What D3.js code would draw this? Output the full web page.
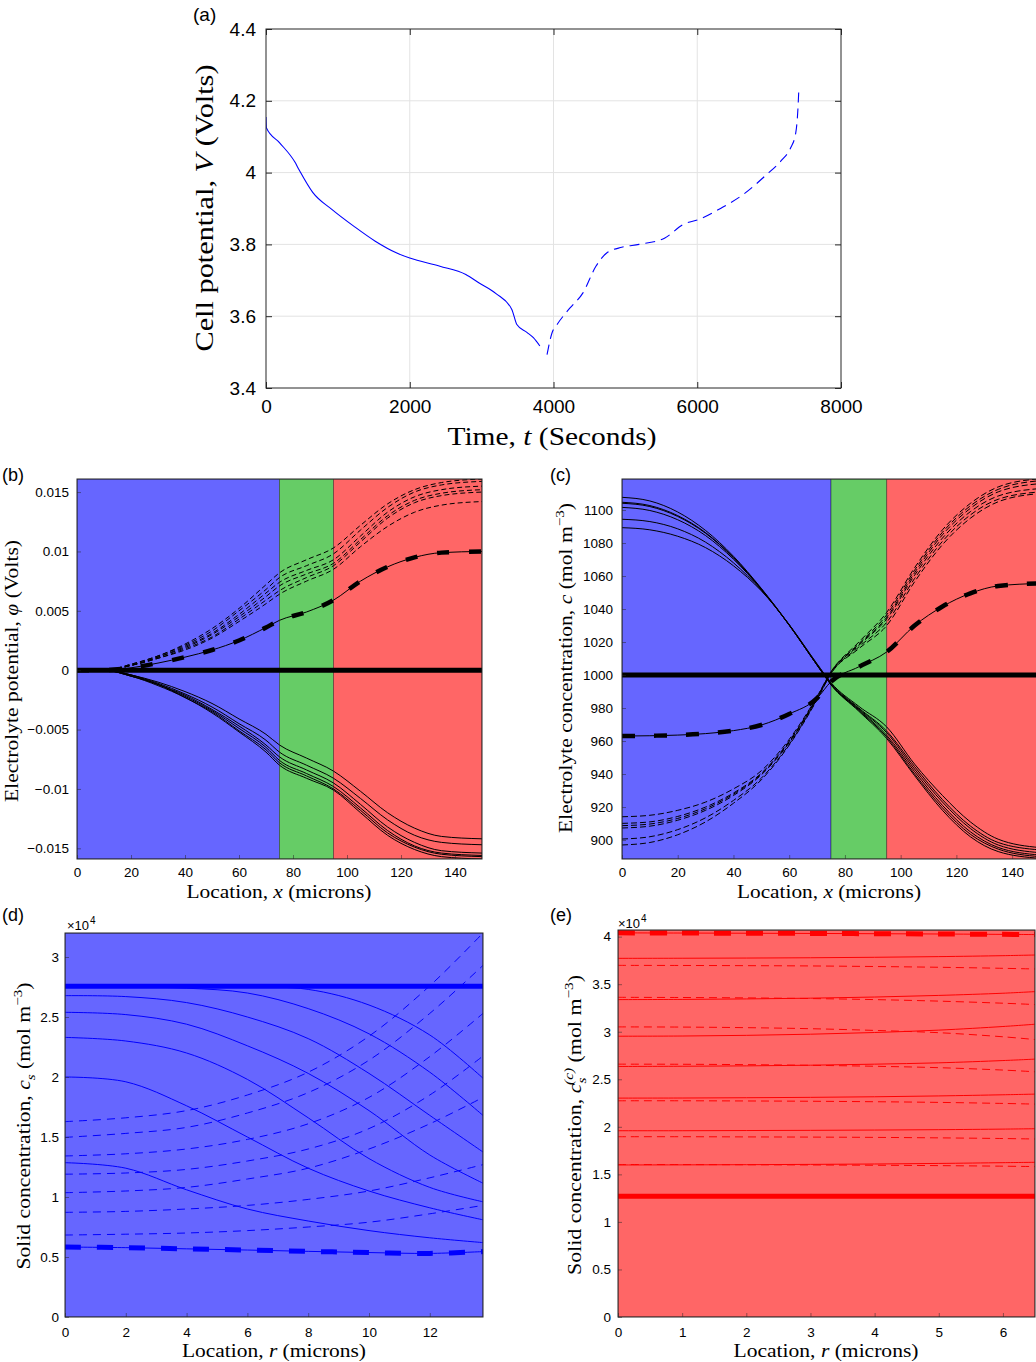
<!DOCTYPE html>
<html>
<head>
<meta charset="utf-8">
<script src="https://cdn.jsdelivr.net/npm/d3@7"></script>
<style>
  body { margin: 0; background: #fff; }
</style>
</head>
<body>
<svg id="figure" width="1036" height="1362"></svg>
<script>
// ---------- (a) cell potential vs time ----------
const dischargeTime = [0, 5, 190, 400, 460, 650, 920, 1220, 1520, 1820, 2000, 2420, 2780, 2960, 3200, 3420, 3490, 3630, 3720, 3810];
const dischargeVolt = [4.155, 4.125, 4.083, 4.030, 4.008, 3.945, 3.897, 3.851, 3.809, 3.776, 3.762, 3.739, 3.716, 3.693, 3.663, 3.619, 3.577, 3.555, 3.540, 3.517];
const chargeTime = [3910, 3980, 4050, 4230, 4410, 4590, 4740, 4950, 5190, 5550, 5800, 6040, 6340, 6640, 6940, 7180, 7300, 7370, 7400, 7412];
const chargeVolt = [3.493, 3.554, 3.577, 3.623, 3.665, 3.739, 3.776, 3.792, 3.800, 3.818, 3.855, 3.871, 3.902, 3.939, 3.990, 4.036, 4.069, 4.110, 4.175, 4.226];
const timeTicks = [0, 2000, 4000, 6000, 8000];
const voltTicks = [3.4, 3.6, 3.8, 4, 4.2, 4.4];

// ---------- cell regions (microns): anode, separator, cathode ----------
const electrodeEdges = [0, 75, 95, 150];
const locationTicks = [0, 20, 40, 60, 80, 100, 120, 140];
const xGrid = [0, 10, 20, 30, 40, 50, 60, 70, 75, 85, 95, 105, 115, 125, 135, 150];

// ---------- (b) electrolyte potential (V) ----------
const phiRest = [0, 0];
const phiDischarge = [
  [0, 0, -0.0004, -0.0010, -0.0018, -0.0028, -0.0041, -0.0054, -0.0063, -0.0074, -0.0085, -0.0102, -0.0120, -0.0133, -0.0140, -0.0142],
  [0, 0, -0.0004, -0.0011, -0.0020, -0.0031, -0.0045, -0.0059, -0.0069, -0.0080, -0.0091, -0.0108, -0.0126, -0.0139, -0.0145, -0.0147],
  [0, 0, -0.0004, -0.0012, -0.0021, -0.0033, -0.0047, -0.0063, -0.0073, -0.0084, -0.0095, -0.0113, -0.0132, -0.0145, -0.0152, -0.0154],
  [0, 0, -0.0005, -0.0012, -0.0022, -0.0034, -0.0049, -0.0065, -0.0076, -0.0087, -0.0098, -0.0116, -0.0135, -0.0148, -0.0154, -0.0156],
  [0, 0, -0.0005, -0.0012, -0.0023, -0.0035, -0.0051, -0.0067, -0.0078, -0.0089, -0.0100, -0.0118, -0.0137, -0.0149, -0.0155, -0.0157],
  [0, 0, -0.0005, -0.0013, -0.0023, -0.0036, -0.0052, -0.0069, -0.0080, -0.0091, -0.0101, -0.0120, -0.0139, -0.0151, -0.0157, -0.0159]
];
const phiCharge = [
  [0, 0, 0.0005, 0.0012, 0.0022, 0.0035, 0.0052, 0.0072, 0.0082, 0.0093, 0.0103, 0.0122, 0.0140, 0.0152, 0.0158, 0.0161],
  [0, 0, 0.0005, 0.0012, 0.0021, 0.0033, 0.0050, 0.0068, 0.0078, 0.0088, 0.0098, 0.0118, 0.0137, 0.0150, 0.0156, 0.0159],
  [0, 0, 0.0004, 0.0011, 0.0020, 0.0031, 0.0047, 0.0065, 0.0074, 0.0084, 0.0093, 0.0113, 0.0133, 0.0146, 0.0152, 0.0155],
  [0, 0, 0.0004, 0.0011, 0.0019, 0.0030, 0.0045, 0.0062, 0.0071, 0.0081, 0.0090, 0.0110, 0.0130, 0.0143, 0.0149, 0.0152],
  [0, 0, 0.0004, 0.0010, 0.0018, 0.0028, 0.0043, 0.0059, 0.0067, 0.0078, 0.0088, 0.0108, 0.0128, 0.0141, 0.0147, 0.0150],
  [0, 0, 0.0004, 0.0010, 0.0017, 0.0027, 0.0041, 0.0056, 0.0064, 0.0075, 0.0085, 0.0104, 0.0121, 0.0133, 0.0139, 0.0142]
];
const phiChargeStart = [0, 0, 0.0002, 0.0006, 0.0011, 0.0017, 0.0025, 0.0036, 0.0042, 0.0049, 0.0059, 0.0075, 0.0087, 0.0095, 0.0099, 0.0100];
const phiTicks = [-0.015, -0.01, -0.005, 0, 0.005, 0.01, 0.015];

// ---------- (c) electrolyte concentration (mol m^-3) ----------
const concRest = [1000, 1000];
const concDischarge = [
  [1107.7, 1105.5, 1098.8, 1087.6, 1072.0, 1052.5, 1030.5, 1006.0, 994.0, 978.0, 961.5, 939.0, 918.0, 902.0, 893.0, 888.9],
  [1104.7, 1102.7, 1096.6, 1086.3, 1071.2, 1052.2, 1030.3, 1006.0, 994.2, 978.5, 962.5, 940.0, 919.5, 903.5, 894.5, 889.9],
  [1104.1, 1102.1, 1096.1, 1085.9, 1071.0, 1052.1, 1030.2, 1006.0, 994.3, 979.0, 963.5, 941.5, 921.0, 905.0, 895.5, 890.9],
  [1101.6, 1099.7, 1094.1, 1084.5, 1070.2, 1051.9, 1030.2, 1006.2, 994.5, 979.5, 965.0, 943.0, 923.0, 907.0, 897.0, 892.3],
  [1094.4, 1093.0, 1088.6, 1080.5, 1068.0, 1051.4, 1030.4, 1006.5, 995.0, 980.0, 966.0, 944.5, 924.5, 908.5, 898.5, 894.0],
  [1089.3, 1088.0, 1084.1, 1077.2, 1066.2, 1051.0, 1030.6, 1006.8, 995.4, 981.0, 968.5, 946.0, 927.0, 911.0, 900.5, 895.4]
];
const concCharge = [
  [914.1, 915.0, 918.0, 923.0, 931.0, 942.0, 961.0, 987.0, 1002.0, 1020.0, 1038.0, 1065.0, 1088.0, 1104.0, 1114.0, 1119.0],
  [910.1, 911.0, 914.3, 920.0, 928.5, 940.5, 960.0, 986.5, 1001.8, 1019.0, 1036.5, 1063.5, 1086.5, 1102.5, 1112.5, 1117.8],
  [908.7, 909.7, 913.1, 919.0, 927.8, 940.0, 959.5, 986.3, 1001.6, 1018.5, 1035.0, 1062.0, 1085.0, 1101.0, 1111.0, 1116.0],
  [907.3, 908.4, 912.0, 918.0, 927.0, 939.5, 959.0, 986.0, 1001.4, 1018.0, 1034.0, 1060.5, 1083.0, 1099.0, 1108.5, 1113.0],
  [900.6, 902.0, 906.3, 913.5, 924.0, 937.5, 958.0, 985.5, 1001.0, 1017.0, 1032.0, 1058.5, 1081.0, 1097.0, 1106.5, 1111.0],
  [897.0, 898.5, 903.2, 911.0, 922.3, 936.5, 957.5, 985.0, 1000.8, 1016.0, 1030.0, 1056.5, 1079.0, 1095.0, 1105.0, 1110.0]
];
const concChargeStart = [963.0, 963.2, 963.6, 964.5, 966.3, 969.7, 976.4, 986.0, 996.0, 1005.0, 1014.0, 1030.0, 1041.5, 1049.5, 1054.0, 1055.5];
const concTicks = [900, 920, 940, 960, 980, 1000, 1020, 1040, 1060, 1080, 1100];

// ---------- (d) anode particle solid concentration (x 10^4 mol m^-3) ----------
const anodeRadius = [0, 2, 4, 6, 8, 10, 12, 13.75];
const anodeRest = [2.756, 2.756];
const anodeDischarge = [
  [2.750, 2.750, 2.750, 2.750, 2.730, 2.600, 2.350, 1.990],
  [2.750, 2.750, 2.740, 2.700, 2.570, 2.360, 2.040, 1.680],
  [2.678, 2.670, 2.620, 2.500, 2.320, 2.030, 1.680, 1.375],
  [2.539, 2.520, 2.440, 2.260, 2.030, 1.720, 1.350, 1.115],
  [2.330, 2.300, 2.200, 1.980, 1.660, 1.320, 1.080, 0.960],
  [2.000, 1.960, 1.760, 1.500, 1.240, 1.050, 0.910, 0.810],
  [1.286, 1.240, 1.060, 0.900, 0.800, 0.720, 0.660, 0.620]
];
const anodeCharge = [
  [1.628, 1.660, 1.720, 1.850, 2.040, 2.340, 2.760, 3.200],
  [1.497, 1.530, 1.580, 1.700, 1.870, 2.140, 2.530, 2.930],
  [1.342, 1.360, 1.400, 1.480, 1.610, 1.830, 2.170, 2.530],
  [1.190, 1.200, 1.230, 1.300, 1.400, 1.570, 1.850, 2.175],
  [1.036, 1.050, 1.080, 1.150, 1.240, 1.400, 1.610, 1.830],
  [0.872, 0.880, 0.900, 0.930, 0.980, 1.050, 1.160, 1.270],
  [0.683, 0.690, 0.700, 0.720, 0.750, 0.790, 0.860, 0.930]
];
const anodeChargeStart = [0.583, 0.578, 0.568, 0.558, 0.547, 0.537, 0.530, 0.545];
const anodeRTicks = [0, 2, 4, 6, 8, 10, 12];
const anodeCTicks = [0, 0.5, 1, 1.5, 2, 2.5, 3];

// ---------- (e) cathode particle solid concentration (x 10^4 mol m^-3) ----------
const cathodeRadius = [0, 1, 2, 3, 4, 5, 6, 6.5];
const cathodeRest = [1.27, 1.27];
const cathodeDischarge = [
  [3.772, 3.773, 3.775, 3.778, 3.783, 3.790, 3.800, 3.807],
  [3.338, 3.340, 3.345, 3.353, 3.365, 3.382, 3.405, 3.422],
  [2.953, 2.955, 2.962, 2.974, 2.992, 3.017, 3.055, 3.079],
  [2.635, 2.637, 2.641, 2.648, 2.659, 2.673, 2.697, 2.712],
  [2.302, 2.303, 2.306, 2.310, 2.316, 2.325, 2.337, 2.344],
  [1.959, 1.959, 1.961, 1.963, 1.966, 1.970, 1.976, 1.980],
  [1.599, 1.600, 1.602, 1.605, 1.609, 1.615, 1.623, 1.627]
];
const cathodeCharge = [
  [3.698, 3.697, 3.695, 3.692, 3.686, 3.678, 3.667, 3.660],
  [3.362, 3.360, 3.356, 3.349, 3.338, 3.322, 3.300, 3.286],
  [3.051, 3.049, 3.043, 3.032, 3.014, 2.990, 2.947, 2.918],
  [2.659, 2.658, 2.654, 2.647, 2.637, 2.622, 2.597, 2.579],
  [2.274, 2.274, 2.272, 2.269, 2.264, 2.257, 2.246, 2.239],
  [1.896, 1.896, 1.894, 1.892, 1.889, 1.884, 1.877, 1.872],
  [1.603, 1.603, 1.601, 1.599, 1.596, 1.592, 1.586, 1.582]
];
const cathodeChargeStart = [4.040, 4.038, 4.036, 4.034, 4.031, 4.028, 4.024, 4.022];
const cathodeRTicks = [0, 1, 2, 3, 4, 5, 6];
const cathodeCTicks = [0, 0.5, 1, 1.5, 2, 2.5, 3, 3.5, 4];

// ---------- styles ----------
const sans = "'Liberation Sans', Arial, Helvetica, sans-serif";
const serif = "'Liberation Serif', 'Times New Roman', serif";
const regionColors = ["#6666ff", "#66cc66", "#ff6666"];
const axisColor = "#262626";

const svg = d3.select("#figure");

// number format with a real minus sign
const fmt = d => d < 0 ? "\u2212" + String(-d) : String(d);

function makePanel(id, box, xDomain, yDomain) {
  const x = d3.scaleLinear().domain(xDomain).range([box.left, box.right]);
  const y = d3.scaleLinear().domain(yDomain).range([box.bottom, box.top]);
  svg.append("clipPath").attr("id", "clip-" + id)
    .append("rect")
      .attr("x", box.left).attr("y", box.top)
      .attr("width", box.right - box.left).attr("height", box.bottom - box.top);
  const g = svg.append("g").attr("class", "panel-" + id);
  const plot = g.append("g").attr("clip-path", `url(#clip-${id})`);
  return { g, plot, x, y, box };
}

// draw a family of profiles that share one x grid
function drawProfiles(p, xs, rows, stroke, width, dash, curve) {
  const line = d3.line()
    .x((d, i) => p.x(xs[i]))
    .y(d => p.y(d))
    .curve(curve || d3.curveMonotoneX);
  p.plot.append("g").selectAll("path")
    .data(rows)
    .join("path")
      .attr("fill", "none")
      .attr("stroke", stroke)
      .attr("stroke-width", width)
      .attr("stroke-dasharray", dash || null)
      .attr("d", line);
}

function drawAxes(p, xTicks, yTicks, o) {
  const b = p.box;
  p.g.append("g")
    .attr("transform", `translate(0,${b.bottom})`)
    .call(d3.axisBottom(p.x).tickValues(xTicks).tickFormat(fmt)
      .tickSizeInner(-o.tick).tickSizeOuter(0).tickPadding(o.xPad))
    .call(g => g.select(".domain").remove())
    .call(g => g.selectAll("line").attr("stroke", axisColor).attr("stroke-opacity", o.tickOpacity))
    .call(g => g.selectAll("text").attr("fill", "#000").attr("font-family", sans).attr("font-size", o.fs));
  p.g.append("g")
    .attr("transform", `translate(${b.left},0)`)
    .call(d3.axisLeft(p.y).tickValues(yTicks).tickFormat(fmt)
      .tickSizeInner(-o.tick).tickSizeOuter(0).tickPadding(o.yPad))
    .call(g => g.select(".domain").remove())
    .call(g => g.selectAll("line").attr("stroke", axisColor).attr("stroke-opacity", o.tickOpacity))
    .call(g => g.selectAll("text").attr("fill", "#000").attr("font-family", sans).attr("font-size", o.fs));
  if (o.mirror) {
    p.g.append("g")
      .attr("transform", `translate(0,${b.top})`)
      .call(d3.axisTop(p.x).tickValues(xTicks).tickFormat("").tickSizeInner(-o.tick).tickSizeOuter(0))
      .call(g => g.select(".domain").remove())
      .call(g => g.selectAll("line").attr("stroke", axisColor));
    p.g.append("g")
      .attr("transform", `translate(${b.right},0)`)
      .call(d3.axisRight(p.y).tickValues(yTicks).tickFormat("").tickSizeInner(-o.tick).tickSizeOuter(0))
      .call(g => g.select(".domain").remove())
      .call(g => g.selectAll("line").attr("stroke", axisColor));
  }
  p.g.append("rect")
    .attr("x", b.left).attr("y", b.top)
    .attr("width", b.right - b.left).attr("height", b.bottom - b.top)
    .attr("fill", "none").attr("stroke", axisColor).attr("stroke-width", 1);
}

// text label made of parts: [text, kind, dx]; kind: "", "i", "sup", "sub", "supi", "subi"
function mathLabel(parts, o) {
  const t = svg.append("text")
    .attr("font-family", serif)
    .attr("font-size", o.fs)
    .attr("text-anchor", "middle")
    .attr("fill", "#000")
    .attr("transform", o.rotate ? `translate(${o.x},${o.y}) rotate(-90)` : `translate(${o.x},${o.y})`);
  if (o.length) t.attr("textLength", o.length).attr("lengthAdjust", "spacingAndGlyphs");
  let shift = 0;
  parts.forEach(([txt, kind = "", dx = 0]) => {
    const sup = kind.startsWith("sup"), sub = kind.startsWith("sub");
    const want = sup ? -0.42 * o.fs : sub ? 0.25 * o.fs : 0;
    const s = t.append("tspan").text(txt).attr("dy", want - shift);
    if (dx) s.attr("dx", dx);
    if (sup || sub) s.attr("font-size", o.fs * 0.7);
    if (kind.endsWith("i")) s.attr("font-style", "italic");
    shift = want;
  });
}

function panelTag(txt, x, y, fs) {
  svg.append("text").attr("x", x).attr("y", y)
    .attr("font-family", sans).attr("font-size", fs).attr("fill", "#000")
    .text(txt);
}

function exponentTag(x, y) {
  const t = svg.append("text").attr("x", x).attr("y", y)
    .attr("font-family", sans).attr("font-size", 13).attr("fill", "#000");
  t.append("tspan").text("\u00d710");
  t.append("tspan").text("4").attr("dy", -6).attr("dx", 1).attr("font-size", 10);
}

function fillRegions(p, edges, colors) {
  p.plot.append("g").selectAll("rect")
    .data(colors)
    .join("rect")
      .attr("x", (d, i) => p.x(edges[i]))
      .attr("y", p.box.top)
      .attr("width", (d, i) => p.x(edges[i + 1]) - p.x(edges[i]))
      .attr("height", p.box.bottom - p.box.top)
      .attr("fill", d => d)
      .attr("stroke", "rgba(0,0,0,0.45)")
      .attr("stroke-width", 0.8);
}

const smooth = d3.curveCatmullRom.alpha(0.5);

// ===== (a) =====
const pa = makePanel("a", { left: 266, right: 841, top: 29, bottom: 388 }, [0, 8000], [3.4, 4.4]);
pa.plot.append("g").selectAll("line")
  .data(timeTicks.slice(1, -1))
  .join("line")
    .attr("x1", d => pa.x(d)).attr("x2", d => pa.x(d))
    .attr("y1", pa.box.top).attr("y2", pa.box.bottom)
    .attr("stroke", "#e3e3e3");
pa.plot.append("g").selectAll("line")
  .data(voltTicks.slice(1, -1))
  .join("line")
    .attr("x1", pa.box.left).attr("x2", pa.box.right)
    .attr("y1", d => pa.y(d)).attr("y2", d => pa.y(d))
    .attr("stroke", "#e3e3e3");
drawProfiles(pa, dischargeTime, [dischargeVolt], "#0000ff", 1.1);
drawProfiles(pa, chargeTime, [chargeVolt], "#0000ff", 1.1, "10,6");
drawAxes(pa, timeTicks, voltTicks, { tick: 6, xPad: 12, yPad: 10, fs: 19, tickOpacity: 1, mirror: true });
panelTag("(a)", 193, 21, 19);
mathLabel([["Cell potential, "], ["V", "i"], ["  (Volts)"]], { x: 213, y: 208, fs: 26, rotate: true, length: 287 });
mathLabel([["Time, "], ["t", "i"], [" (Seconds)"]], { x: 552, y: 445, fs: 26, length: 209 });

// ===== (b) =====
const pb = makePanel("b", { left: 77, right: 482, top: 479, bottom: 859 }, [0, 150], [-0.0159, 0.0161]);
fillRegions(pb, electrodeEdges, regionColors);
drawProfiles(pb, [0, 150], [phiRest], "#000", 5);
drawProfiles(pb, xGrid, phiDischarge, "#000", 1);
drawProfiles(pb, xGrid, phiCharge, "#000", 1, "5,3");
drawProfiles(pb, xGrid, [phiChargeStart], "#000", 1);
drawProfiles(pb, xGrid, [phiChargeStart], "#000", 4.5, "12,20");
drawAxes(pb, locationTicks, phiTicks, { tick: 4, xPad: 8, yPad: 8, fs: 13.5, tickOpacity: 0.5 });
panelTag("(b)", 2, 481, 18);
mathLabel([["Electrolyte potential, "], ["\u03c6", "i"], [" (Volts)"]], { x: 18, y: 671, fs: 18, rotate: true, length: 262 });
mathLabel([["Location, "], ["x", "i"], [" (microns)"]], { x: 279, y: 898, fs: 19, length: 185 });

// ===== (c) =====
const pc = makePanel("c", { left: 622, right: 1040, top: 479, bottom: 859 }, [0, 150], [888.5, 1118.8]);
fillRegions(pc, electrodeEdges, regionColors);
drawProfiles(pc, [0, 150], [concRest], "#000", 5);
drawProfiles(pc, xGrid, concDischarge, "#000", 1);
drawProfiles(pc, xGrid, concCharge, "#000", 1, "6,3");
drawProfiles(pc, xGrid, [concChargeStart], "#000", 1);
drawProfiles(pc, xGrid, [concChargeStart], "#000", 4.5, "13,19");
drawAxes(pc, locationTicks, concTicks, { tick: 4, xPad: 8, yPad: 9, fs: 13.5, tickOpacity: 0.5 });
panelTag("(c)", 550, 481, 18);
mathLabel([["Electrolyte concentration, "], ["c", "i"], [" (mol m"], ["\u22123", "sup"], [")"]],
  { x: 572, y: 668, fs: 18, rotate: true, length: 330 });
mathLabel([["Location, "], ["x", "i"], [" (microns)"]], { x: 829, y: 898, fs: 19, length: 184 });

// ===== (d) =====
const pd = makePanel("d", { left: 65, right: 483, top: 933, bottom: 1317 }, [0, 13.75], [0, 3.2]);
fillRegions(pd, [0, 13.75], [regionColors[0]]);
drawProfiles(pd, [0, 13.75], [anodeRest], "#0000ff", 5);
drawProfiles(pd, anodeRadius, anodeDischarge, "#0000ff", 1, null, smooth);
drawProfiles(pd, anodeRadius, anodeCharge, "#0000ff", 1, "8,6", smooth);
drawProfiles(pd, anodeRadius, [anodeChargeStart], "#0000ff", 1, null, smooth);
drawProfiles(pd, anodeRadius, [anodeChargeStart], "#0000ff", 5, "16,16", smooth);
drawAxes(pd, anodeRTicks, anodeCTicks, { tick: 4, xPad: 10, yPad: 6, fs: 13.5, tickOpacity: 0.5 });
panelTag("(d)", 2, 921, 18);
exponentTag(67, 930);
mathLabel([["Solid concentration, "], ["c", "i"], ["s", "subi"], [" (mol m"], ["\u22123", "sup"], [")"]],
  { x: 30, y: 1126, fs: 18, rotate: true, length: 287 });
mathLabel([["Location, "], ["r", "i"], [" (microns)"]], { x: 274, y: 1357, fs: 19, length: 184 });

// ===== (e) =====
const pe = makePanel("e", { left: 618, right: 1035, top: 930, bottom: 1317 }, [0, 6.5], [0, 4.07]);
fillRegions(pe, [0, 6.5], [regionColors[2]]);
drawProfiles(pe, [0, 6.5], [cathodeRest], "#ff0000", 5);
drawProfiles(pe, cathodeRadius, cathodeDischarge, "#ff0000", 1, null, smooth);
drawProfiles(pe, cathodeRadius, cathodeCharge, "#ff0000", 1, "8,5", smooth);
drawProfiles(pe, cathodeRadius, [cathodeChargeStart], "#ff0000", 1, null, smooth);
drawProfiles(pe, cathodeRadius, [cathodeChargeStart], "#ff0000", 5, "17,15", smooth);
drawAxes(pe, cathodeRTicks, cathodeCTicks, { tick: 4, xPad: 10, yPad: 7, fs: 13.5, tickOpacity: 0.5 });
panelTag("(e)", 550, 921, 18);
exponentTag(618, 928);
mathLabel([["Solid concentration, "], ["c", "i"], ["s", "subi"], ["(c)", "supi", -6], [" (mol m"], ["\u22123", "sup"], [")"]],
  { x: 581, y: 1125, fs: 18, rotate: true, length: 300 });
mathLabel([["Location, "], ["r", "i"], [" (microns)"]], { x: 826, y: 1357, fs: 19, length: 185 });
</script>
</body>
</html>
